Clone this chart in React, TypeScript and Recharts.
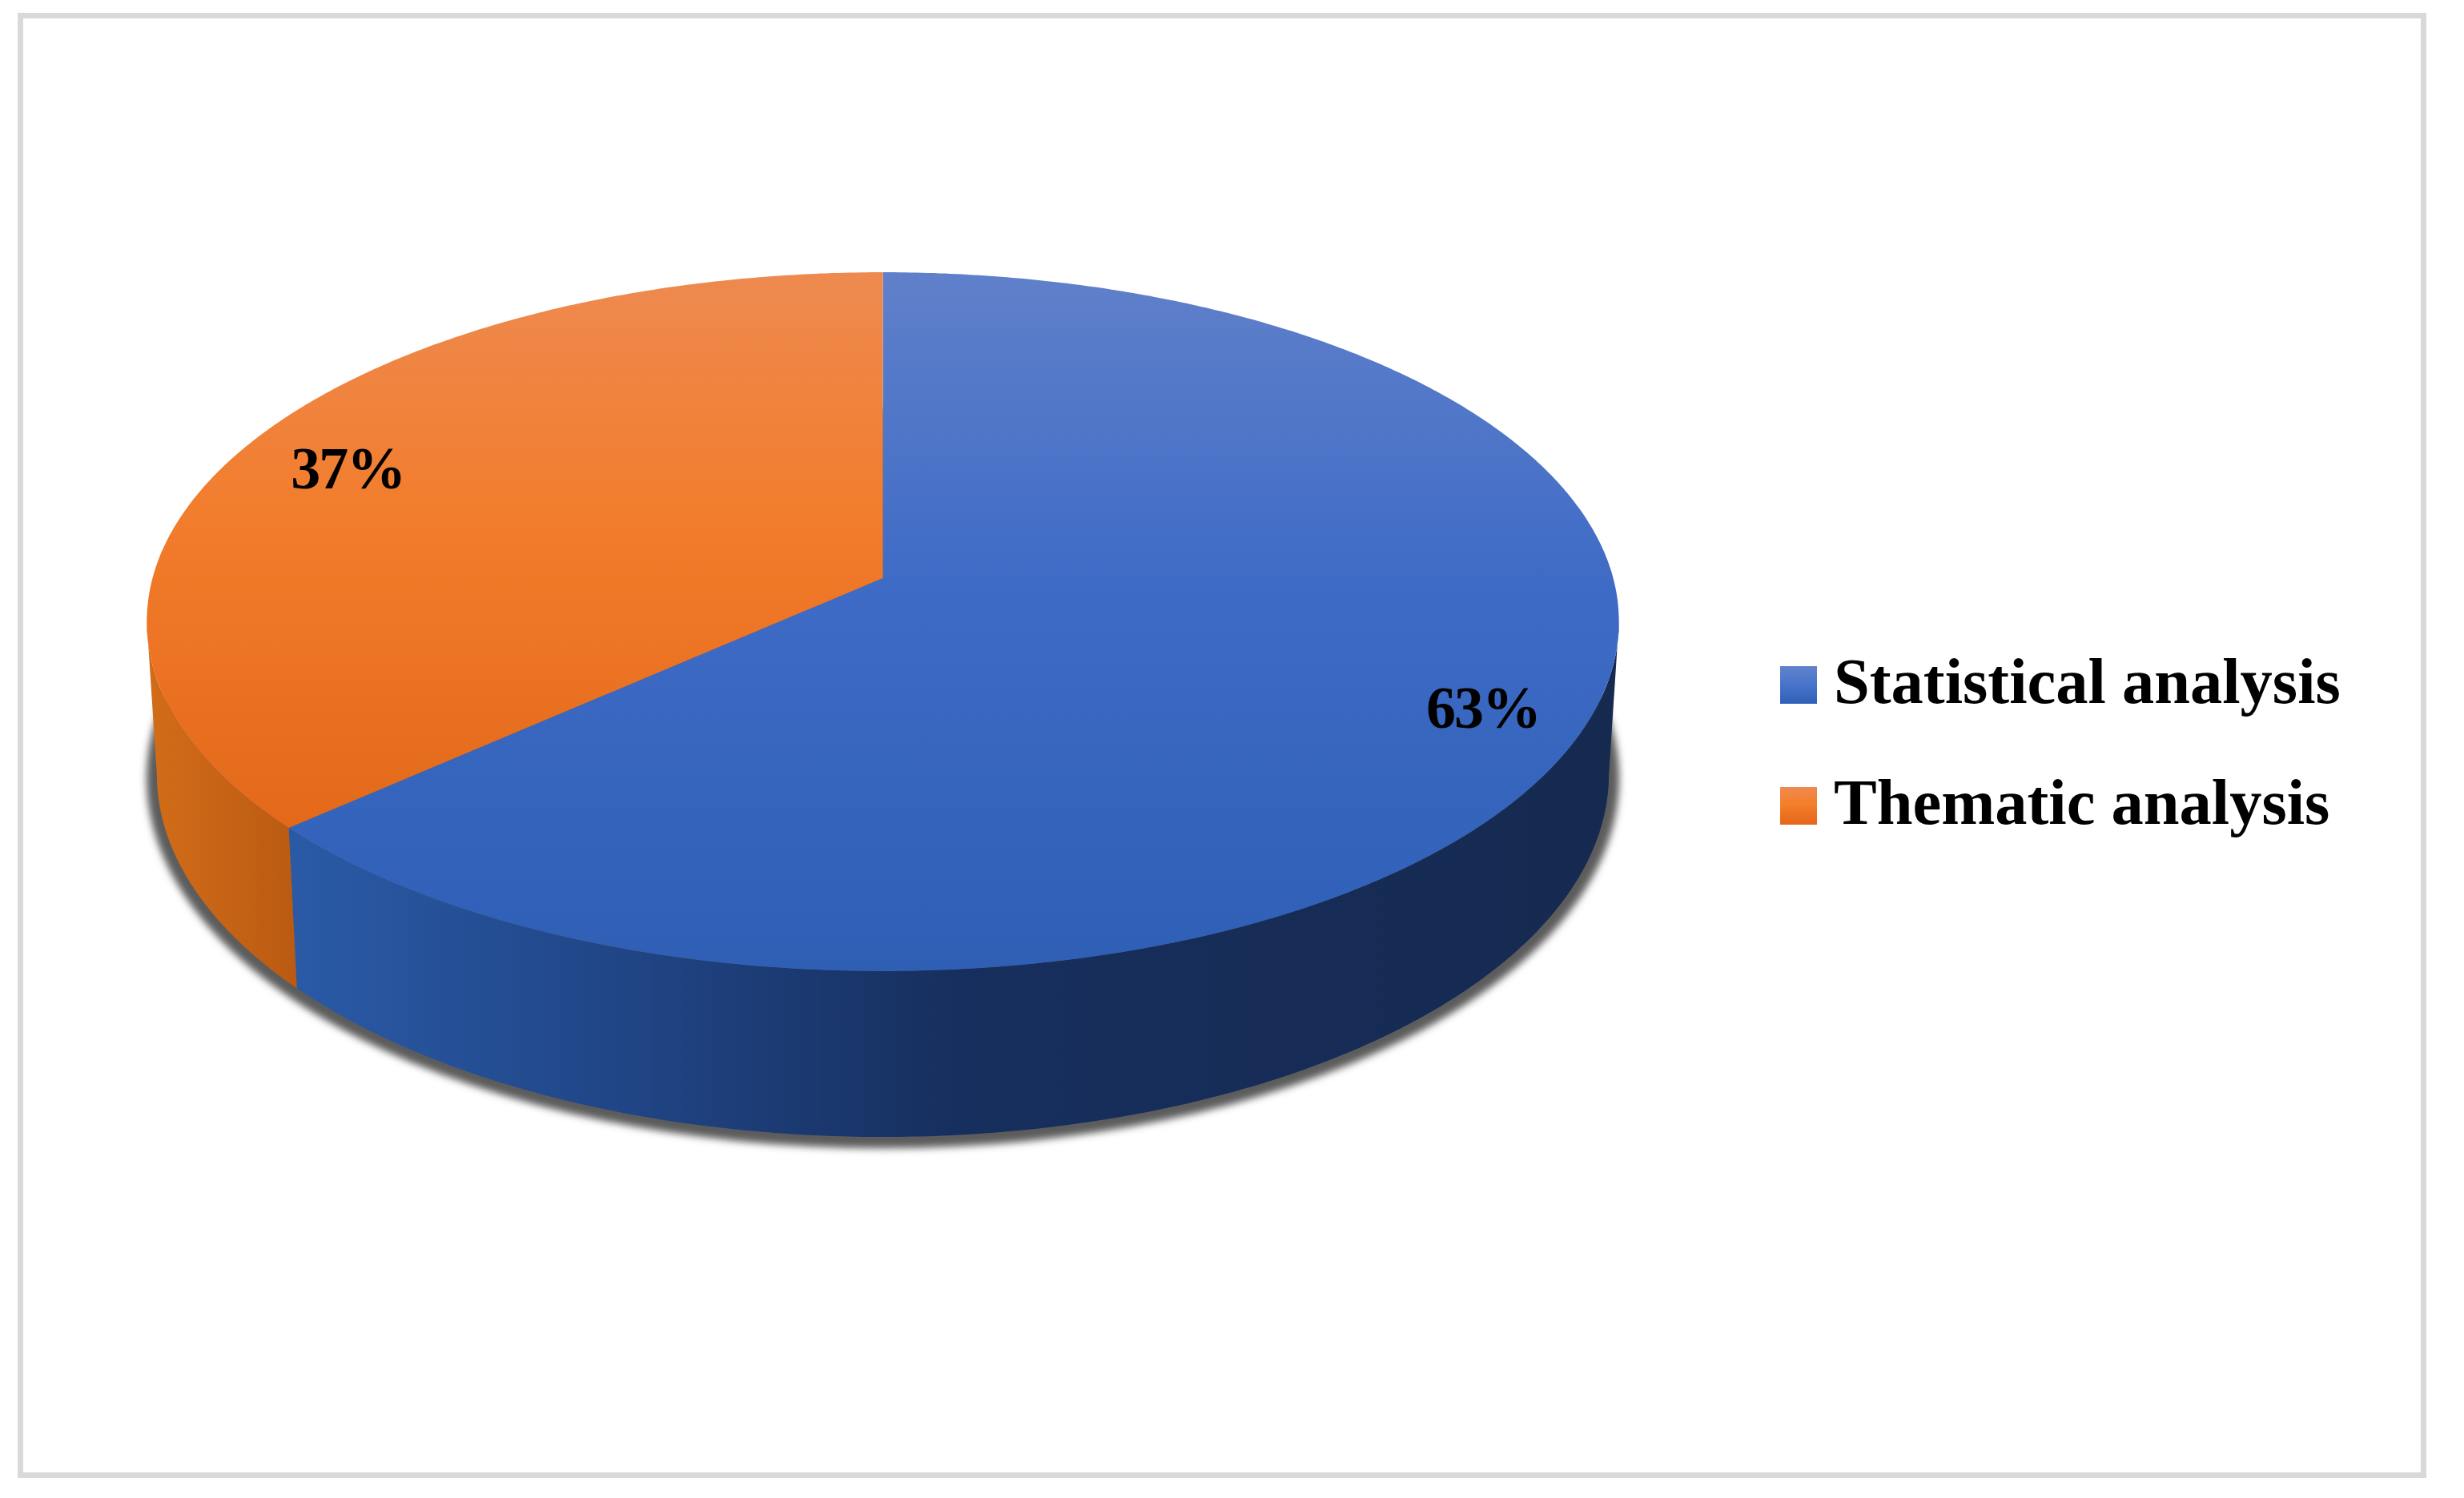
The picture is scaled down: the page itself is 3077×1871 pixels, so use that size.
import { PieChart, Pie, Legend } from 'recharts';

const categories = ['Statistical analysis', 'Thematic analysis'];
// The labels say 63% and 37%; the exact split is estimated from where the slice edge falls.
const values = [63.4, 36.6];
const topFills = ['url(#blueTop)', 'url(#orangeTop)'];
const wallFills = ['url(#blueWall)', 'url(#orangeWall)'];
const swatches = [
  'linear-gradient(#6283cc, #4a75cc 45%, #2e60b6)',
  'linear-gradient(#ee8a50, #f57f2a 45%, #e4651a)',
];

const data = categories.map((name, i) => ({ name, value: values[i], fill: topFills[i] }));

const SERIF = '"Liberation Serif", serif';
const PERSPECTIVE = 0.1247;
const WALL_DROP = 188;
// where the rim turns away from the viewer, degrees clockwise from 12 o'clock
const WALL_FROM = 97.16;
const WALL_TO = 262.84;

// flat pie (theta clockwise from top, r 0..1) onto the tilted disc
function project(cx: number, cy: number, R: number, theta: number, r: number, lower = false) {
  const rad = (theta * Math.PI) / 180;
  const u = Math.sin(rad) * r;
  const v = Math.cos(rad) * r;
  const den = 1 + PERSPECTIVE * v;
  const bx = lower ? 0.9864 * R : R;
  const ay = lower ? 0.4895 * R : 0.471 * R;
  const y0 = lower ? cy + WALL_DROP : cy;
  return [cx + (bx * u) / den, y0 - (ay * v) / den];
}

function sweep(cx: number, cy: number, R: number, from: number, to: number, lower = false) {
  const pts: string[] = [];
  const n = Math.ceil(Math.abs(to - from) * 2);
  for (let i = 0; i <= n; i++) {
    const [x, y] = project(cx, cy, R, from + ((to - from) * i) / n, 1, lower);
    pts.push(`${x.toFixed(1)} ${y.toFixed(1)}`);
  }
  return pts;
}

function TiltedSlice(props: any) {
  const { cx, cy, outerRadius: R, startAngle, endAngle, index, fill } = props;
  const a = Math.min(90 - startAngle, 90 - endAngle);
  const b = Math.max(90 - startAngle, 90 - endAngle);
  const wallA = Math.max(a, WALL_FROM);
  const wallB = Math.min(b, WALL_TO);
  const top = sweep(cx, cy, R, a, b);
  const rimTop = sweep(cx, cy, R, wallA, wallB);
  const rimLow = sweep(cx, cy, R, wallB, wallA, true);
  return (
    <g>
      {index === 0 && (
        <ellipse
          cx={cx}
          cy={cy + 250}
          rx={R * 0.9864 + 20}
          ry={R * 0.497 + 9}
          fill="#5c5c5c"
          filter="url(#rimShadow)"
        />
      )}
      <path d={`M${rimTop.join(' L')} L${rimLow.join(' L')} Z`} fill={wallFills[index]} />
      <path d={`M${cx} ${cy} L${top.join(' L')} Z`} fill={fill} />
    </g>
  );
}

function SliceLabel(props: any) {
  const { cx, cy, outerRadius: R, midAngle, value } = props;
  const [x, y] = project(cx, cy, R, 90 - midAngle, 0.85);
  return (
    <text
      x={x + 10}
      y={y + 31}
      textAnchor="middle"
      fontFamily={SERIF}
      fontWeight="bold"
      fontSize={74}
      letterSpacing={-2}
      fill="#000"
    >
      {`${Math.round(value)}%`}
    </text>
  );
}

function LegendRows({ payload }: any) {
  return (
    <div style={{ position: 'relative', width: 760, height: 240 }}>
      {(payload || []).map((entry: any, i: number) => (
        <div key={entry.value} style={{ position: 'absolute', left: 0, top: i * 151 }}>
          <div
            style={{ position: 'absolute', left: 0, top: 0, width: 46, height: 47, background: swatches[i] }}
          />
          <div
            style={{
              position: 'absolute',
              left: 67,
              top: -21,
              whiteSpace: 'nowrap',
              fontFamily: SERIF,
              fontWeight: 'bold',
              fontSize: 80.5,
              lineHeight: '80px',
              color: '#000',
            }}
          >
            {entry.value}
          </div>
        </div>
      ))}
    </div>
  );
}

export default function App() {
  return (
    <div style={{ position: 'absolute', left: 0, top: 0, width: 3077, height: 1871, background: '#fff' }}>
      <div
        style={{
          position: 'absolute',
          left: 22,
          top: 16,
          width: 3008,
          height: 1830,
          boxSizing: 'border-box',
          border: '7px solid #d9d9d9',
        }}
      />
      <PieChart width={3077} height={1871} margin={{ top: 0, right: 0, bottom: 0, left: 0 }}>
        <defs>
          <linearGradient id="blueTop" gradientUnits="userSpaceOnUse" x1="0" y1="340" x2="0" y2="1213">
            <stop offset="0" stopColor="#6080ca" />
            <stop offset="0.45" stopColor="#3e6bc6" />
            <stop offset="1" stopColor="#2e5fb5" />
          </linearGradient>
          <linearGradient id="orangeTop" gradientUnits="userSpaceOnUse" x1="0" y1="340" x2="0" y2="1040">
            <stop offset="0" stopColor="#ee8a50" />
            <stop offset="0.45" stopColor="#f27c2b" />
            <stop offset="1" stopColor="#e3681a" />
          </linearGradient>
          <linearGradient id="blueWall" gradientUnits="userSpaceOnUse" x1="371" y1="0" x2="2010" y2="0">
            <stop offset="0" stopColor="#2a5aa6" />
            <stop offset="0.25" stopColor="#204586" />
            <stop offset="0.5" stopColor="#172f5e" />
            <stop offset="1" stopColor="#162a50" />
          </linearGradient>
          <linearGradient id="orangeWall" gradientUnits="userSpaceOnUse" x1="187" y1="0" x2="371" y2="0">
            <stop offset="0" stopColor="#d26c18" />
            <stop offset="1" stopColor="#ba5a12" />
          </linearGradient>
          <filter id="rimShadow" x="-5%" y="-5%" width="110%" height="110%">
            <feGaussianBlur stdDeviation="5" />
          </filter>
        </defs>
        <Pie
          data={data}
          dataKey="value"
          nameKey="name"
          cx={1102.5}
          cy={722}
          outerRadius={912}
          startAngle={90}
          endAngle={-270}
          stroke="none"
          shape={TiltedSlice}
          label={SliceLabel}
          labelLine={false}
          isAnimationActive={false}
        />
        <Legend
          layout="vertical"
          align="right"
          verticalAlign="top"
          content={LegendRows}
          wrapperStyle={{ left: 2223, top: 832, width: 760, height: 240 }}
        />
      </PieChart>
    </div>
  );
}
